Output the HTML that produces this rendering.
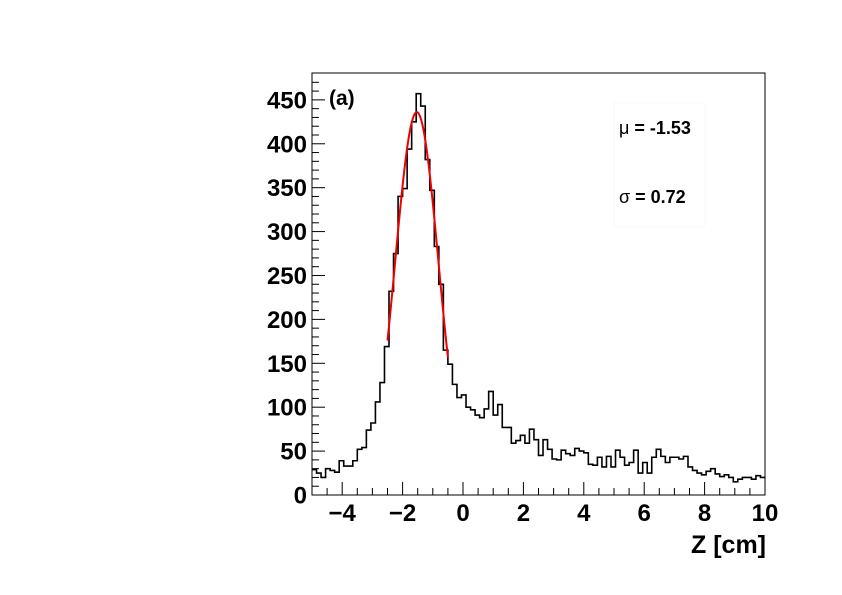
<!DOCTYPE html>
<html><head><meta charset="utf-8"><style>
html,body{margin:0;padding:0;background:#fff;}
svg{display:block;font-family:"Liberation Sans",sans-serif;}
</style></head><body>
<svg id="chart" width="842" height="595" viewBox="0 0 842 595">
<rect x="614" y="103" width="91" height="124" fill="#fff" stroke="#f8f8f8"/>
<text x="619" y="134" font-size="18" font-weight="bold"><tspan font-weight="normal">μ</tspan> = -1.53</text>
<text x="619" y="203" font-size="18" font-weight="bold"><tspan font-weight="normal">σ</tspan> = 0.72</text>
<text x="329" y="105" font-size="21" font-weight="bold">(a)</text>
<g id="axes"></g>
<path id="hist" fill="none" stroke="#000" stroke-width="1.6"/>
<path id="fit" fill="none" stroke="#e00" stroke-width="2"/>
<rect x="312" y="73" width="453" height="422" fill="none" stroke="#000" stroke-width="1"/>
<text x="766" y="553" font-size="25" font-weight="bold" text-anchor="end">Z [cm]</text>
</svg>
<script>
const binLow = -5, binHigh = 10;
const counts = [29,25,20,30,28,26,39,33,33,39,52,54,74,82,106,128,169,232,275,340,349,394,425,457,443,382,347,283,240,165,149,126,111,114,
100,97,91,88,98,118,91,103,77,77,59,62,68,59,75,63,45,63,52,41,40,51,47,45,53,50,48,35,34,43,32,44,32,
51,43,34,37,51,25,37,25,43,52,44,37,43,43,41,44,32,28,25,23,27,30,24,21,23,20,15,18,20,20,18,22,20];
const fitMu = -1.53, fitSigma = 0.72, fitAmp = 436, fitFrom = -2.5, fitTo = -0.5;
const yTicks = [0,50,100,150,200,250,300,350,400,450];
const xTicks = [-4,-2,0,2,4,6,8,10];
const X0=312,X1=765,Y0=495,YMAX=480.6,Ytop=73;
const sx=v=>X0+(v-binLow)/(binHigh-binLow)*(X1-X0);
const sy=v=>Y0-v/YMAX*(Y0-Ytop);
const NS='http://www.w3.org/2000/svg';
const g=document.getElementById('axes');
function el(t,a){const e=document.createElementNS(NS,t);for(const k in a)e.setAttribute(k,a[k]);g.appendChild(e);return e;}
for(let v=0;v<=470;v+=10){const maj=v%50===0;const l=el('line',{x1:X0,x2:X0+(maj?13:7),y1:sy(v),y2:sy(v),stroke:'#000'});

}
yTicks.forEach(v=>{const t=el('text',{x:307,y:sy(v)+8.5,'font-size':24,'font-weight':'bold','text-anchor':'end'});t.textContent=v;

});
for(let v=-5;v<=10;v+=0.5){const maj=Math.abs(v%2)===0;const l=el('line',{x1:sx(v),x2:sx(v),y1:Y0,y2:Y0-(maj?13:7),stroke:'#000'});

}
xTicks.forEach(v=>{const t=el('text',{x:sx(v),y:521,'font-size':24,'font-weight':'bold','text-anchor':'middle'});t.textContent=v<0?'\u2212'+(-v):v;

});
const w=(binHigh-binLow)/counts.length;
let d='M'+sx(binLow)+','+sy(counts[0]);
counts.forEach((c,i)=>{if(i>0)d+='L'+sx(binLow+i*w)+','+sy(c);d+='L'+sx(binLow+(i+1)*w)+','+sy(c);});
document.getElementById('hist').setAttribute('d',d);
let f='';for(let i=0;i<=100;i++){const x=fitFrom+(fitTo-fitFrom)*i/100;const y=fitAmp*Math.exp(-0.5*((x-fitMu)/fitSigma)**2);f+=(i?'L':'M')+sx(x).toFixed(2)+','+sy(y).toFixed(2);}
document.getElementById('fit').setAttribute('d',f);
</script>
</body></html>
